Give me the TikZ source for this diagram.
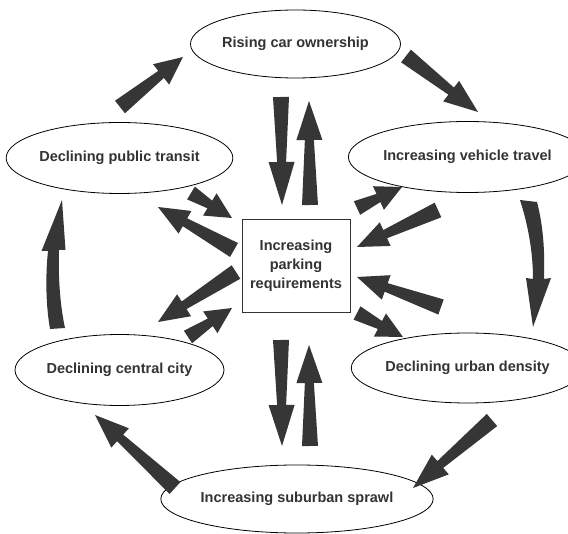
\documentclass[tikz,border=0pt]{standalone}
\usepackage{fontspec}
\setmainfont{Liberation Sans}
\usetikzlibrary{shapes.geometric,calc}
\definecolor{arrowgray}{HTML}{363636}
\definecolor{txtgray}{HTML}{333333}
\tikzset{
  arrowfill/.style={fill=arrowgray},
  stateel/.style 2 args={ellipse, draw=black, line width=0.8pt, inner sep=0pt,
    minimum width=#1pt, minimum height=#2pt, text=txtgray,
    font=\fontsize{14.5}{19}\selectfont\bfseries},
  centerbox/.style={rectangle, draw=black!80, line width=0.8pt, inner sep=0pt,
    minimum width=108pt, minimum height=93pt, align=center, text=txtgray,
    font=\fontsize{14.5}{19}\selectfont\bfseries}
}
% #1 tail half width, #2 head length, #3 tail, #4 tip
\newcommand{\fatarr}[4][8]{%
  \coordinate (hb) at ($(#4)!#2pt!(#3)$);
  \fill[arrowfill] ($(#3)!#1pt!90:(#4)$) -- ($(hb)!4.5pt!90:(#4)$) -- ($(hb)!13pt!90:(#4)$)
    -- (#4) -- ($(hb)!13pt!-90:(#4)$) -- ($(hb)!4.5pt!-90:(#4)$) -- ($(#3)!#1pt!-90:(#4)$) -- cycle;
}
\begin{document}
\begin{tikzpicture}[x=1pt,y=-1pt]
\useasboundingbox (0,0) rectangle (568,534);
\fill[white] (0,0) rectangle (568,534);

\node[stateel={210}{68}] (rise) at (295.5,44) {Rising car ownership};
\node[stateel={209}{71}] (trans) at (119.5,158) {Declining public transit};
\node[stateel={197}{71}] (veh) at (467.5,157) {Increasing vehicle travel};
\node[stateel={197}{70}] (dens) at (467.5,368) {Declining urban density};
\node[stateel={209}{71}] (city) at (119.5,370) {Declining central city};
\node[stateel={210}{68}] (sprawl) at (297,499) {Increasing suburban sprawl};
\node[centerbox] (park) at (296,265.5) {Increasing\\parking\\requirements};

% arrow end points
\coordinate (a1t) at (120,107); \coordinate (a1h) at (183,57);
\coordinate (a2t) at (406,56);  \coordinate (a2h) at (478,112);
\coordinate (a3t) at (281,97);  \coordinate (a3h) at (282,205);
\coordinate (a4t) at (310,205); \coordinate (a4h) at (309,101);
\coordinate (a5t) at (191,193); \coordinate (a5h) at (232,218);
\coordinate (a6t) at (234,250); \coordinate (a6h) at (158,207);
\coordinate (a7t) at (236,272); \coordinate (a7h) at (158,322);
\coordinate (a8t) at (188,337); \coordinate (a8h) at (232,308);
\coordinate (a9t) at (357,208); \coordinate (a9h) at (402,187);
\coordinate (a10t) at (438,210); \coordinate (a10h) at (357,247);
\coordinate (a11t) at (441,307); \coordinate (a11h) at (357,277);
\coordinate (a12t) at (357,313); \coordinate (a12h) at (403,337);
\coordinate (a13t) at (281,340); \coordinate (a13h) at (282,446);
\coordinate (a14t) at (310,446); \coordinate (a14h) at (309,345);
\coordinate (a15t) at (492,420); \coordinate (a15h) at (413,488);
\coordinate (a16t) at (175,488); \coordinate (a16h) at (95,415);

\fatarr{28}{a1t}{a1h}
\fatarr{34}{a2t}{a2h}
\fatarr{43}{a3t}{a3h}
\fatarr{39}{a4t}{a4h}
\fatarr[7.5]{26}{a5t}{a5h}
\fatarr{31}{a6t}{a6h}
\fatarr{31}{a7t}{a7h}
\fatarr[7.5]{26}{a8t}{a8h}
\fatarr[7.5]{26}{a9t}{a9h}
\fatarr{31}{a10t}{a10h}
\fatarr{31}{a11t}{a11h}
\fatarr[7.5]{26}{a12t}{a12h}
\fatarr{41}{a13t}{a13h}
\fatarr{38}{a14t}{a14h}
\fatarr{36}{a15t}{a15h}
\fatarr{34}{a16t}{a16h}

% curved arrows
\coordinate (cvt) at (528.5,201); \coordinate (cvh) at (533,327);
\fill[arrowfill] (520,200) .. controls (529,228) and (533,255) .. (533,279)
  -- (526,278) -- (cvh) -- (551,278) -- (544,279)
  .. controls (545,250) and (543,225) .. (537,202) -- cycle;
\coordinate (cct) at (57.5,328); \coordinate (cch) at (62,200);
\fill[arrowfill] (50,329) .. controls (45,300) and (46,270) .. (48,251)
  -- (41.5,251) -- (cch) -- (65.5,250) -- (59,250)
  .. controls (58,275) and (60,305) .. (65,328) -- cycle;
\end{tikzpicture}
\end{document}
